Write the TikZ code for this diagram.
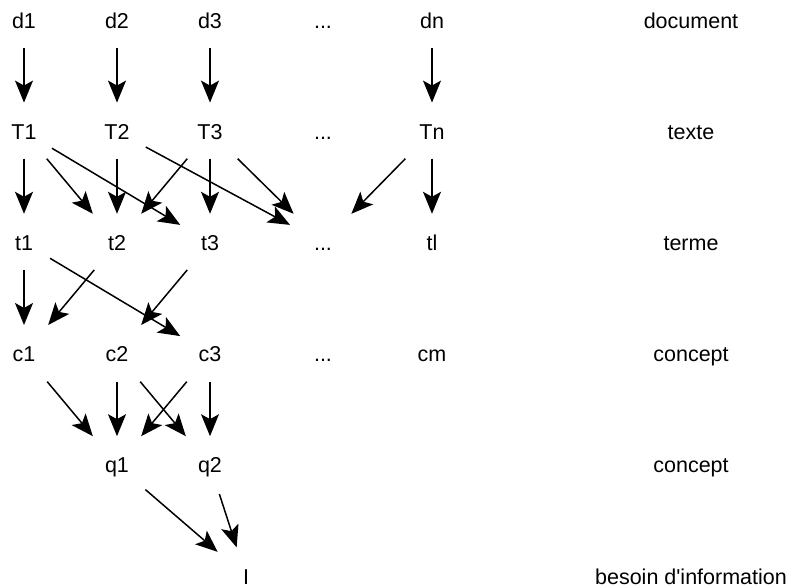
\documentclass[tikz,border=0pt]{standalone}
\usepackage{fontspec}
\setmainfont{Liberation Sans}
\usetikzlibrary{positioning,calc,arrows.meta}

\begin{document}
\begin{tikzpicture}[x=1pt, y=-1pt,
  lbl/.style={inner sep=0pt, text height=15.5pt, text depth=0pt},
  arr/.style={-{Stealth[length=22pt, width=18pt, inset=5pt]}, line width=1.5pt},
  node distance=111.2pt]
  \fontsize{21.5}{26}\selectfont
  \useasboundingbox (0,0) rectangle (788,588);
  % niveaux
  \node[lbl] (d1) at (24,20.3) {d1};
  \node[lbl] (d2) at (117,20.3) {d2};
  \node[lbl] (d3) at (210,20.3) {d3};
  \node[lbl] (ddots) at (323,20.3) {...};
  \node[lbl] (dn) at (432,20.3) {dn};
  \node[lbl] (ldoc) at (691,20.3) {document};

  \node[lbl, below of=d1] (T1) {T1};
  \node[lbl, below of=d2] (T2) {T2};
  \node[lbl, below of=d3] (T3) {T3};
  \node[lbl, below of=ddots] (Tdots) {...};
  \node[lbl, below of=dn] (Tn) {Tn};
  \node[lbl, below of=ldoc] (ltexte) {texte};

  \node[lbl, below of=T1] (t1) {t1};
  \node[lbl, below of=T2] (t2) {t2};
  \node[lbl, below of=T3] (t3) {t3};
  \node[lbl, below of=Tdots] (tdots) {...};
  \node[lbl, below of=Tn] (tl) {tl};
  \node[lbl, below of=ltexte] (lterme) {terme};

  \node[lbl, below of=t1] (c1) {c1};
  \node[lbl, below of=t2] (c2) {c2};
  \node[lbl, below of=t3] (c3) {c3};
  \node[lbl, below of=tdots] (cdots) {...};
  \node[lbl, below of=tl] (cm) {cm};
  \node[lbl, below of=lterme] (lconcept) {concept};

  \node[lbl, below of=c2] (q1) {q1};
  \node[lbl, below of=c3] (q2) {q2};
  \node[lbl, below of=lconcept] (lrequete) {concept};

  \node[lbl, below of=q2, xshift=36pt] (I) {I};
  \node[lbl, below of=lrequete] (lbesoin) {besoin d\textquotesingle information};

  % document -> texte
  \draw[arr] ($(d1)!.245!(T1)$) -- ($(d1)!.74!(T1)$);
  \draw[arr] ($(d2)!.245!(T2)$) -- ($(d2)!.74!(T2)$);
  \draw[arr] ($(d3)!.245!(T3)$) -- ($(d3)!.74!(T3)$);
  \draw[arr] ($(dn)!.245!(Tn)$) -- ($(dn)!.74!(Tn)$);
  % texte -> terme
  \draw[arr] ($(T1)!.245!(t1)$) -- ($(T1)!.74!(t1)$);
  \draw[arr] ($(T1)!.245!(t2)$) -- ($(T1)!.74!(t2)$);
  \draw[arr] ($(T1)!.15!(t3)$) -- ($(T1)!.84!(t3)$);
  \draw[arr] ($(T2)!.245!(t2)$) -- ($(T2)!.74!(t2)$);
  \draw[arr] ($(T2)!.14!(tdots)$) -- ($(T2)!.84!(tdots)$);
  \draw[arr] ($(T3)!.245!(t2)$) -- ($(T3)!.74!(t2)$);
  \draw[arr] ($(T3)!.245!(t3)$) -- ($(T3)!.74!(t3)$);
  \draw[arr] ($(T3)!.245!(tdots)$) -- ($(T3)!.74!(tdots)$);
  \draw[arr] ($(Tn)!.245!(tdots)$) -- ($(Tn)!.74!(tdots)$);
  \draw[arr] ($(Tn)!.245!(tl)$) -- ($(Tn)!.74!(tl)$);
  % terme -> concept
  \draw[arr] ($(t1)!.245!(c1)$) -- ($(t1)!.74!(c1)$);
  \draw[arr] ($(t1)!.14!(c3)$) -- ($(t1)!.84!(c3)$);
  \draw[arr] ($(t2)!.245!(c1)$) -- ($(t2)!.74!(c1)$);
  \draw[arr] ($(t3)!.245!(c2)$) -- ($(t3)!.74!(c2)$);
  % concept -> requete
  \draw[arr] ($(c1)!.25!(q1)$) -- ($(c1)!.74!(q1)$);
  \draw[arr] ($(c2)!.25!(q1)$) -- ($(c2)!.74!(q1)$);
  \draw[arr] ($(c2)!.25!(q2)$) -- ($(c2)!.74!(q2)$);
  \draw[arr] ($(c3)!.25!(q1)$) -- ($(c3)!.74!(q1)$);
  \draw[arr] ($(c3)!.25!(q2)$) -- ($(c3)!.74!(q2)$);
  % requete -> besoin
  \draw[arr] ($(q1)!.22!(I)$) -- ($(q1)!.78!(I)$);
  \draw[arr] ($(q2)!.26!(I)$) -- ($(q2)!.74!(I)$);
\end{tikzpicture}
\end{document}
